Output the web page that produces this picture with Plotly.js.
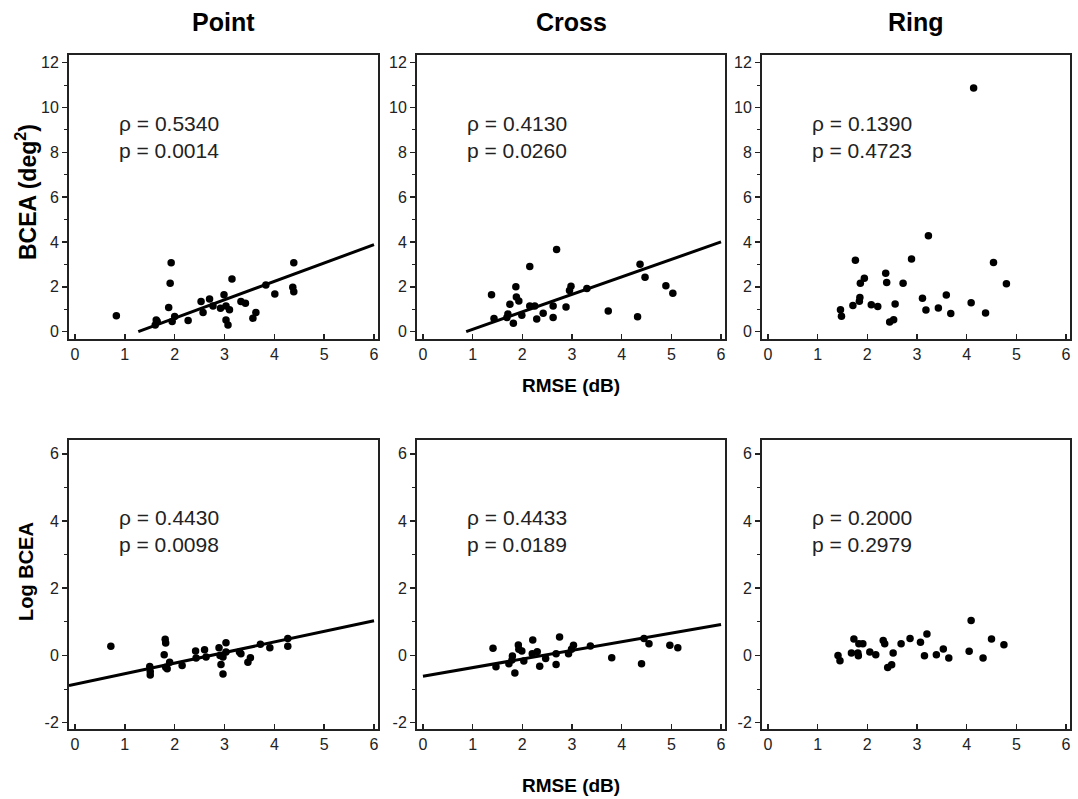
<!DOCTYPE html>
<html>
<head>
<meta charset="utf-8">
<script src="https://cdn.plot.ly/plotly-3.0.1.min.js"></script>
<style>html,body{margin:0;padding:0;background:#fff;}#chart{width:1078px;height:799px;}</style>
</head>
<body>
<div id="chart"></div>
<script>
// ---------- Data ----------
const columnTitles = ["Point", "Cross", "Ring"];
const xTitle = "RMSE (dB)";
const yTitleTop = "BCEA (deg<sup>2</sup>)";
const yTitleBottom = "Log BCEA";

const xTickVals = [0, 1, 2, 3, 4, 5, 6];
const xTickText = ["0", "1", "2", "3", "4", "5", "6"];
const yTickValsTop = [0, 2, 4, 6, 8, 10, 12];
const yTickTextTop = ["0", "2", "4", "6", "8", "10", "12"];
const yTickValsBottom = [-2, 0, 2, 4, 6];
const yTickTextBottom = ["-2", "0", "2", "4", "6"];

const statsTop = [["0.5340", "0.0014"], ["0.4130", "0.0260"], ["0.1390", "0.4723"]];
const statsBottom = [["0.4430", "0.0098"], ["0.4433", "0.0189"], ["0.2000", "0.2979"]];

// Point – BCEA
const pointTopX = [0.83,1.93,1.91,1.88,2.00,1.95,1.63,1.61,1.65,2.27,2.53,2.57,2.70,2.77,2.99,2.92,3.03,3.10,3.03,3.07,3.15,3.33,3.42,3.57,3.63,3.83,4.01,4.39,4.37,4.39];
const pointTopY = [0.71,3.07,2.16,1.08,0.67,0.45,0.52,0.30,0.45,0.49,1.34,0.85,1.46,1.14,1.64,1.04,1.14,0.97,0.52,0.30,2.35,1.34,1.26,0.60,0.85,2.08,1.68,3.07,1.98,1.78];
const pointTopFitX = [1.27, 6.0];
const pointTopFitY = [0.0, 3.88];

// Cross – BCEA
const crossTopX = [1.38,1.43,1.71,1.75,1.82,1.87,1.88,1.93,1.99,2.15,2.15,2.25,2.29,2.42,2.62,2.62,2.69,2.88,2.95,2.98,3.30,3.73,4.32,4.37,4.47,4.89,5.03,1.69];
const crossTopY = [1.64,0.59,0.78,1.22,0.37,2.00,1.54,1.36,0.73,2.90,1.14,1.14,0.56,0.82,1.14,0.63,3.66,1.10,1.83,2.02,1.92,0.92,0.66,3.00,2.42,2.05,1.71,0.63];
const crossTopFitX = [0.87, 6.0];
const crossTopFitY = [0.0, 4.0];

// Ring – BCEA
const ringTopX = [1.46,1.48,1.71,1.76,1.84,1.85,1.86,1.94,2.08,2.21,2.37,2.39,2.45,2.53,2.56,2.72,2.89,3.11,3.18,3.23,3.43,3.59,3.68,4.09,4.14,4.38,4.54,4.80];
const ringTopY = [0.98,0.68,1.17,3.18,1.35,1.52,2.16,2.38,1.20,1.12,2.60,2.19,0.43,0.53,1.23,2.16,3.24,1.49,0.96,4.28,1.05,1.63,0.81,1.29,10.87,0.83,3.08,2.13];

// Point – Log BCEA
const pointBotX = [0.72,1.50,1.51,1.51,1.81,1.82,1.79,1.82,1.85,1.90,2.15,2.42,2.43,2.60,2.63,2.89,2.91,2.97,2.93,2.97,3.03,3.03,3.30,3.33,3.47,3.52,3.72,3.91,4.27,4.27];
const pointBotY = [0.27,-0.33,-0.48,-0.58,0.48,0.37,0.02,-0.35,-0.40,-0.20,-0.30,0.13,-0.08,0.17,-0.05,0.23,0.00,-0.05,-0.27,-0.55,0.38,0.10,0.10,0.05,-0.20,-0.07,0.33,0.23,0.50,0.27];
const pointBotFitX = [-0.12, 6.0];
const pointBotFitY = [-0.90, 1.03];

// Cross – Log BCEA
const crossBotX = [1.41,1.47,1.73,1.80,1.79,1.85,1.92,1.93,1.99,2.03,2.21,2.20,2.30,2.35,2.47,2.68,2.68,2.75,2.93,2.99,3.03,3.37,3.80,4.40,4.45,4.55,4.97,5.13];
const crossBotY = [0.21,-0.34,-0.25,-0.02,-0.14,-0.52,0.31,0.18,0.13,-0.17,0.46,0.05,0.11,-0.32,-0.09,0.05,-0.27,0.55,0.05,0.18,0.30,0.28,-0.07,-0.25,0.50,0.35,0.30,0.23];
const crossBotFitX = [0.0, 6.0];
const crossBotFitY = [-0.62, 0.92];

// Ring – Log BCEA
const ringBotX = [1.41,1.45,1.68,1.73,1.81,1.82,1.83,1.91,2.05,2.17,2.32,2.35,2.41,2.49,2.52,2.68,2.86,3.07,3.15,3.20,3.39,3.53,3.64,4.05,4.09,4.33,4.50,4.75];
const ringBotY = [0.00,-0.16,0.07,0.49,0.07,-0.01,0.35,0.35,0.10,0.02,0.44,0.35,-0.36,-0.28,0.07,0.35,0.50,0.39,-0.01,0.64,0.02,0.19,-0.08,0.12,1.04,-0.08,0.49,0.32];

// ---------- Layout ----------
const W = 1078, H = 799;
const colPx = [[69, 378], [417, 725], [762, 1070]];
const rowPx = [[55, 339], [440, 729]];
const xRange = [-0.12, 6.08];
const yRanges = [[-0.33, 12.34], [-2.19, 6.41]];
const yTicks = [[yTickValsTop, yTickTextTop], [yTickValsBottom, yTickTextBottom]];
const textY = [8.7, 3.7];
const fontFam = "Liberation Sans, Arial, sans-serif";
const ink = "#222";

const panels = [
  {x: pointTopX, y: pointTopY, fx: pointTopFitX, fy: pointTopFitY, r: 0, c: 0},
  {x: crossTopX, y: crossTopY, fx: crossTopFitX, fy: crossTopFitY, r: 0, c: 1},
  {x: ringTopX,  y: ringTopY,  fx: null, fy: null, r: 0, c: 2},
  {x: pointBotX, y: pointBotY, fx: pointBotFitX, fy: pointBotFitY, r: 1, c: 0},
  {x: crossBotX, y: crossBotY, fx: crossBotFitX, fy: crossBotFitY, r: 1, c: 1},
  {x: ringBotX,  y: ringBotY,  fx: null, fy: null, r: 1, c: 2}
];

const traces = [];
const layout = {
  width: W, height: H,
  margin: {l: 0, r: 0, t: 0, b: 0},
  paper_bgcolor: "#fff", plot_bgcolor: "#fff",
  showlegend: false,
  font: {family: fontFam, color: ink},
  annotations: []
};

panels.forEach((p, i) => {
  const n = i + 1;
  const xa = "x" + (n === 1 ? "" : n), ya = "y" + (n === 1 ? "" : n);
  const xKey = "xaxis" + (n === 1 ? "" : n), yKey = "yaxis" + (n === 1 ? "" : n);
  const cp = colPx[p.c], rp = rowPx[p.r];
  layout[xKey] = {
    domain: [cp[0] / W, cp[1] / W], anchor: ya, range: xRange,
    tickmode: "array", tickvals: xTickVals, ticktext: xTickText,
    ticks: "inside", ticklen: 5, tickwidth: 1.5, tickcolor: ink,
    showline: true, linewidth: 2, linecolor: ink, mirror: true,
    showgrid: false, zeroline: false,
    tickfont: {family: fontFam, size: 16, color: ink}
  };
  layout[yKey] = {
    domain: [1 - rp[1] / H, 1 - rp[0] / H], anchor: xa, range: yRanges[p.r],
    tickmode: "array", tickvals: yTicks[p.r][0], ticktext: yTicks[p.r][1],
    ticks: "outside", ticklen: 5, tickwidth: 1.5, tickcolor: ink,
    minor: {tickmode: "linear", tick0: 0, dtick: 1, ticks: "outside", ticklen: 3, tickwidth: 1, tickcolor: ink, showgrid: false},
    showline: true, linewidth: 2, linecolor: ink, mirror: true,
    showgrid: false, zeroline: false,
    tickfont: {family: fontFam, size: 16, color: ink}
  };
  if (p.fx) {
    traces.push({type: "scatter", mode: "lines", x: p.fx, y: p.fy, xaxis: xa, yaxis: ya,
      line: {color: "#000", width: 3}, hoverinfo: "skip"});
  }
  traces.push({type: "scatter", mode: "markers", x: p.x, y: p.y, xaxis: xa, yaxis: ya,
    marker: {color: "#000", size: 7.5}});
  const st = (p.r === 0 ? statsTop : statsBottom)[p.c];
  layout.annotations.push({
    xref: xa, yref: ya, x: 0.85, y: textY[p.r],
    xanchor: "left", yanchor: "middle", align: "left", showarrow: false,
    text: "ρ = " + st[0] + "<br>p = " + st[1],
    font: {family: fontFam, size: 21, color: ink}
  });
});

// Column titles
columnTitles.forEach((t, c) => {
  layout.annotations.push({
    xref: "paper", yref: "paper", x: (colPx[c][0] + colPx[c][1]) / 2 / W, y: 1 - 22 / H,
    xanchor: "center", yanchor: "middle", showarrow: false,
    text: "<b>" + t + "</b>", font: {family: fontFam, size: 25, color: "#000"}
  });
});
// X titles
[385, 785].forEach(yp => {
  layout.annotations.push({
    xref: "paper", yref: "paper", x: (colPx[1][0] + colPx[1][1]) / 2 / W, y: 1 - yp / H,
    xanchor: "center", yanchor: "middle", showarrow: false,
    text: "<b>" + xTitle + "</b>", font: {family: fontFam, size: 19, color: "#000"}
  });
});
// Y titles
[[yTitleTop, 192, 23], [yTitleBottom, 572, 20]].forEach(([t, yp, fs]) => {
  layout.annotations.push({
    xref: "paper", yref: "paper", x: 26 / W, y: 1 - yp / H,
    xanchor: "center", yanchor: "middle", showarrow: false, textangle: -90,
    text: "<b>" + t + "</b>", font: {family: fontFam, size: fs, color: "#000"}
  });
});

Plotly.newPlot("chart", traces, layout, {staticPlot: true, displayModeBar: false});
</script>
</body>
</html>
